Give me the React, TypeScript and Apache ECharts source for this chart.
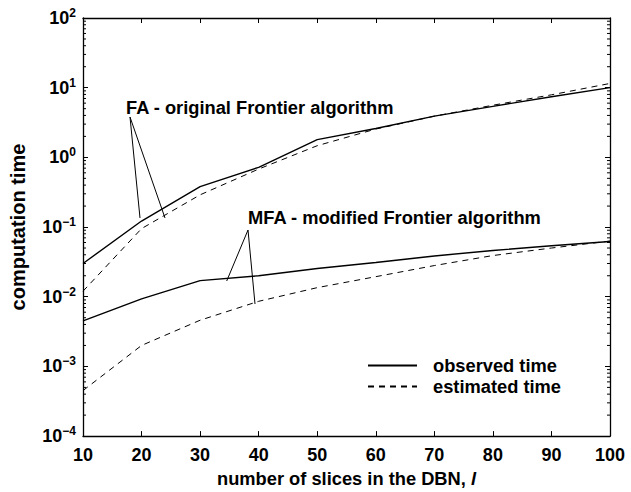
import React, { useEffect, useRef } from "react";
import * as echarts from "echarts";

const slices = [10, 20, 30, 40, 50, 60, 70, 80, 90, 100];
const faObserved = [0.03, 0.122, 0.38, 0.72, 1.8, 2.6, 3.9, 5.4, 7.4, 10];
const faEstimated = [0.012, 0.095, 0.29, 0.68, 1.47, 2.55, 3.9, 5.6, 7.9, 11.5];
const mfaObserved = [0.0045, 0.0093, 0.017, 0.02, 0.0254, 0.031, 0.0385, 0.046, 0.054, 0.062];
const mfaEstimated = [0.00045, 0.002, 0.0046, 0.0086, 0.0135, 0.0194, 0.028, 0.039, 0.05, 0.063];
const decades = [-4, -3, -2, -1, 0, 1];
const minorMultipliers = [2, 3, 4, 5, 6, 7, 8, 9];

const FONT = '"Liberation Sans", Arial, Helvetica, sans-serif';
const TXT = 18.3;

function pairs(vals: number[]) {
  return slices.map((x, i) => [x, vals[i]]);
}

export default function App() {
  const ref = useRef<HTMLDivElement>(null);
  useEffect(() => {
    if (!ref.current) return;
    const chart = echarts.init(ref.current, undefined, { renderer: "svg" });
    const axisLine = { show: true, onZero: false, lineStyle: { color: "#000", width: 1.3 } };
    const tick = { show: true, inside: true, length: 5, lineStyle: { color: "#000", width: 1 } };
    const lineBase = (name: string, vals: number[], dashed: boolean) => ({
      type: "line",
      name,
      data: pairs(vals),
      xAxisIndex: 0,
      yAxisIndex: 0,
      symbol: "none",
      showSymbol: false,
      silent: true,
      lineStyle: {
        color: "#000",
        width: dashed ? 1 : 1.4,
        type: dashed ? [6, 5] : "solid",
      },
      itemStyle: { color: "#000" },
    });
    const option: any = {
      animation: false,
      grid: { left: 83, right: 21, top: 18, bottom: 51, containLabel: false },
      legend: {
        left: 367,
        top: 355,
        padding: 0,
        orient: "vertical",
        selectedMode: false,
        itemWidth: 49,
        itemHeight: 10,
        itemGap: 0,
        itemStyle: { opacity: 0, borderWidth: 0 },
        data: [{ name: "observed time" }, { name: "estimated time" }],
        textStyle: { fontSize: TXT, fontWeight: "bold", fontFamily: FONT, color: "#000", padding: [0, 0, 0, 11], lineHeight: 21 },
      },
      xAxis: [
        {
          type: "value",
          position: "bottom",
          min: 10,
          max: 100,
          interval: 10,
          axisLine,
          axisTick: tick,
          splitLine: { show: false },
          axisLabel: { color: "#000", fontSize: 18, fontWeight: "bold", fontFamily: FONT, margin: 10 },
          name: "number of slices in the DBN, {i|l}",
          nameLocation: "middle",
          nameGap: 13,
          nameTextStyle: {
            fontSize: TXT,
            fontWeight: "bold",
            fontFamily: FONT,
            color: "#000",
            rich: { i: { fontSize: TXT, fontWeight: "bold", fontFamily: FONT, fontStyle: "italic", color: "#000" } },
          },
        },
        {
          type: "value",
          position: "top",
          min: 10,
          max: 100,
          interval: 10,
          axisLine,
          axisTick: tick,
          splitLine: { show: false },
          axisLabel: { show: false },
        },
      ],
      yAxis: [
        {
          type: "log",
          logBase: 10,
          position: "left",
          min: 1e-4,
          max: 1e2,
          splitNumber: 6,
          axisLine,
          axisTick: tick,
          splitLine: { show: false },
          axisLabel: {
            color: "#000",
            margin: 7,
            formatter: (v: number) => {
              const e = Math.round(Math.log10(v));
              const s = e < 0 ? "\u2212" + -e : "" + e;
              return "{b|10}{s|" + s + "}";
            },
            rich: {
              b: { fontSize: 18, fontWeight: "bold", fontFamily: FONT, color: "#000", lineHeight: 22 },
              s: { fontSize: 12, fontWeight: "bold", fontFamily: FONT, color: "#000", verticalAlign: "top", lineHeight: 12 },
            },
          },
          name: "computation time",
          nameLocation: "middle",
          nameGap: 55,
          nameTextStyle: { fontSize: 20, fontWeight: "bold", fontFamily: FONT, color: "#000" },
        },
        {
          type: "log",
          logBase: 10,
          position: "right",
          min: 1e-4,
          max: 1e2,
          splitNumber: 6,
          axisLine,
          axisTick: tick,
          splitLine: { show: false },
          axisLabel: { show: false },
        },
      ],
      series: [
        lineBase("observed time", faObserved, false),
        lineBase("estimated time", faEstimated, true),
        lineBase("observed time", mfaObserved, false),
        lineBase("estimated time", mfaEstimated, true),
      ],
    };
    chart.setOption(option);

    const graphics: any[] = [
      {
        type: "text",
        x: 126,
        y: 107,
        style: { text: "FA - original Frontier algorithm", fontSize: TXT, fontWeight: "bold", fontFamily: FONT, fill: "#000", verticalAlign: "middle" },
      },
      {
        type: "polyline",
        shape: { points: [[140, 218], [130, 117], [165, 218]] },
        style: { stroke: "#000", lineWidth: 1, fill: "none" },
      },
      {
        type: "text",
        x: 248,
        y: 217,
        style: { text: "MFA - modified Frontier algorithm", fontSize: TXT, fontWeight: "bold", fontFamily: FONT, fill: "#000", verticalAlign: "middle" },
      },
      {
        type: "polyline",
        shape: { points: [[226.7, 281], [248, 230], [255, 304]] },
        style: { stroke: "#000", lineWidth: 1, fill: "none" },
      },
    ];
    decades.forEach((d) =>
      minorMultipliers.forEach((m) => {
        const v = m * Math.pow(10, d);
        const pl = chart.convertToPixel({ xAxisIndex: 0, yAxisIndex: 0 }, [10, v]) as number[];
        const pr = chart.convertToPixel({ xAxisIndex: 0, yAxisIndex: 0 }, [100, v]) as number[];
        if (!pl || !pr) return;
        graphics.push({
          type: "line",
          silent: true,
          shape: { x1: pl[0], y1: pl[1], x2: pl[0] + 3, y2: pl[1] },
          style: { stroke: "#000", lineWidth: 1 },
        });
        graphics.push({
          type: "line",
          silent: true,
          shape: { x1: pr[0] - 3, y1: pr[1], x2: pr[0], y2: pr[1] },
          style: { stroke: "#000", lineWidth: 1 },
        });
      })
    );
    chart.setOption({ graphic: graphics });
    return () => chart.dispose();
  }, []);
  return <div ref={ref} style={{ width: 631, height: 492, position: "absolute", left: 0, top: 0, background: "#fff" }} />;
}
